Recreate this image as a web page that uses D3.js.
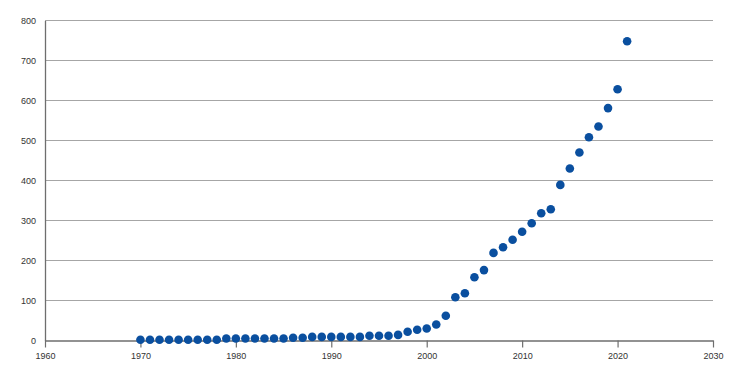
<!DOCTYPE html>
<html>
<head>
<meta charset="utf-8">
<script src="https://cdn.jsdelivr.net/npm/d3@7"></script>
<style>
html,body{margin:0;padding:0;background:#fff;}
svg{display:block;}
text{font-family:"Liberation Sans",Arial,Helvetica,sans-serif;}
</style>
</head>
<body>
<svg id="chart" width="742" height="377"></svg>
<script>
const years = [1970,1971,1972,1973,1974,1975,1976,1977,1978,1979,1980,1981,1982,1983,1984,1985,1986,1987,1988,1989,1990,1991,1992,1993,1994,1995,1996,1997,1998,1999,2000,2001,2002,2003,2004,2005,2006,2007,2008,2009,2010,2011,2012,2013,2014,2015,2016,2017,2018,2019,2020,2021];
const values = [2,2,2,2,2,2,2,2,2,5,5,5,5,5,5,5,7,7,9,9,9,9,9,9,12,12,12,14,22,27,30,40,62,108,118,158,176,219,233,252,272,293,318,328,389,430,470,508,535,581,628,748];
const xTicks = [1960,1970,1980,1990,2000,2010,2020,2030];
const yTicks = [0,100,200,300,400,500,600,700,800];

const svg = d3.select("#chart");
const x = d3.scaleLinear().domain([1960,2030]).range([45,713]);
const y = d3.scaleLinear().domain([0,800]).range([340.5,20.5]);

// gridlines
svg.append("g").selectAll("line").data(yTicks.filter(d=>d>0)).join("line")
  .attr("x1",x(1960)).attr("x2",x(2030))
  .attr("y1",d=>y(d)).attr("y2",d=>y(d))
  .attr("stroke","#a6a6a6").attr("stroke-width",1.2);

// y axis
const yAxis = svg.append("g").attr("transform",`translate(${x(1960)},0)`)
  .call(d3.axisLeft(y).tickValues(yTicks).tickSize(0).tickPadding(9).tickFormat(d3.format("d")));
yAxis.select(".domain").attr("stroke","#6e6e6e").attr("stroke-width",1.3);
yAxis.selectAll("text").attr("font-size","9px").attr("fill","#333");

// x axis
const xAxis = svg.append("g").attr("transform",`translate(0,${y(0)})`)
  .call(d3.axisBottom(x).tickValues(xTicks).tickSize(7).tickSizeOuter(0).tickPadding(5).tickFormat(d3.format("d")));
xAxis.select(".domain").attr("stroke","#6e6e6e").attr("stroke-width",1.3);
xAxis.selectAll(".tick line").attr("stroke","#6e6e6e").attr("stroke-width",1.2);
xAxis.selectAll("text").attr("font-size","9px").attr("fill","#333");

// points
svg.append("g").selectAll("circle").data(years.map((yr,i)=>({yr,v:values[i]}))).join("circle")
  .attr("cx",d=>x(d.yr)).attr("cy",d=>y(d.v)).attr("r",4.3)
  .attr("fill","#0a4f9f");
</script>
</body>
</html>
